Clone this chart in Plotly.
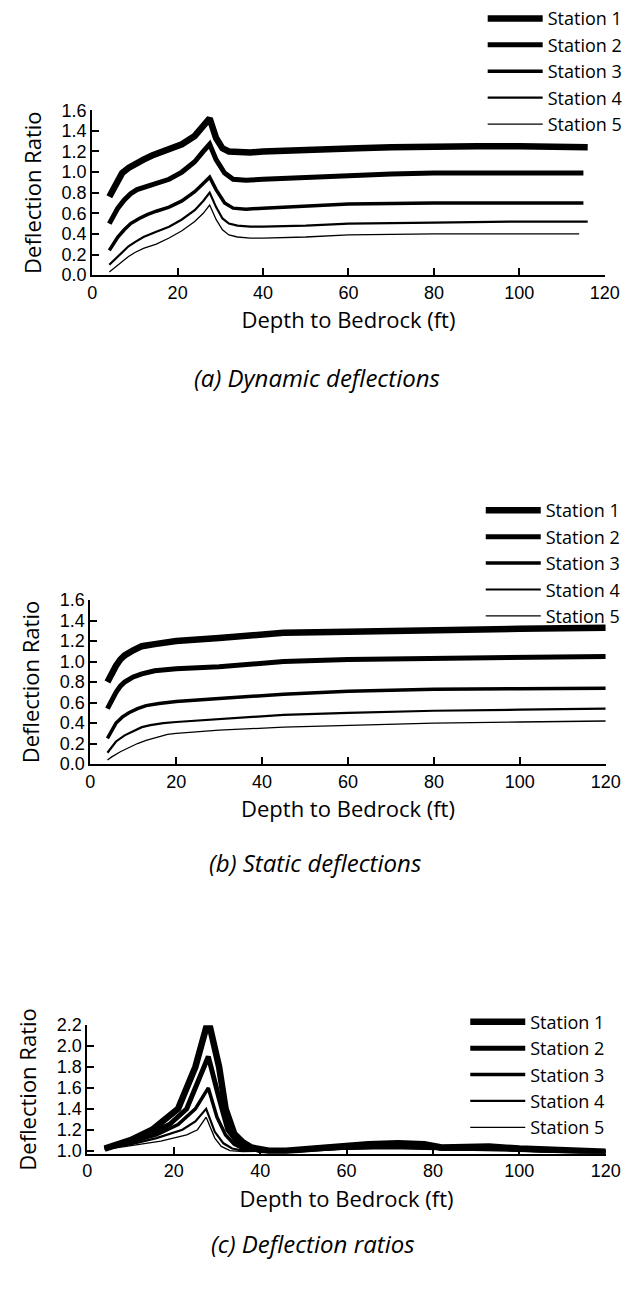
import plotly.graph_objects as go

names = ["Station 1", "Station 2", "Station 3", "Station 4", "Station 5"]
widths = [6.5, 5, 3.5, 2.2, 1.3]

# (a) Dynamic deflections
dyn_x = [
    [4, 5, 6, 7, 8.5, 10, 12, 14, 16, 18, 21, 24, 26, 27.5, 29, 30.5, 32, 34, 37, 40, 50, 60, 62, 70, 80, 90, 100, 116],
    [4, 5, 6, 7.5, 9, 10.5, 12, 15, 18, 21, 24, 26, 27.5, 29, 31, 33, 36, 40, 50, 60, 70, 80, 100, 115],
    [4, 5, 6, 7.5, 9, 11, 13, 15, 18, 21, 24, 26, 27.5, 29, 31, 33, 36, 40, 50, 60, 80, 100, 115],
    [4, 5.5, 7, 8.5, 10, 12, 15, 18, 21, 24, 26, 27.5, 29, 30.5, 32, 34, 37, 40, 50, 60, 80, 100, 116],
    [4, 5.5, 7, 8.5, 10, 12, 15, 18, 21, 24, 26, 27.5, 29, 30.5, 32, 34, 37, 40, 50, 60, 80, 100, 114],
]
dyn_y = [
    [0.76, 0.84, 0.92, 0.99, 1.04, 1.08, 1.12, 1.16, 1.19, 1.22, 1.27, 1.35, 1.44, 1.52, 1.33, 1.23, 1.2, 1.19, 1.19, 1.2, 1.22, 1.24, 1.23, 1.24, 1.25, 1.25, 1.25, 1.24],
    [0.5, 0.58, 0.65, 0.73, 0.79, 0.83, 0.85, 0.88, 0.93, 1.0, 1.1, 1.2, 1.27, 1.12, 0.99, 0.93, 0.92, 0.93, 0.95, 0.97, 0.98, 0.99, 0.99, 0.99],
    [0.24, 0.31, 0.37, 0.44, 0.5, 0.55, 0.59, 0.62, 0.66, 0.72, 0.81, 0.89, 0.95, 0.83, 0.7, 0.65, 0.64, 0.65, 0.67, 0.69, 0.7, 0.7, 0.7],
    [0.1, 0.16, 0.22, 0.28, 0.32, 0.37, 0.42, 0.47, 0.54, 0.63, 0.72, 0.8, 0.66, 0.55, 0.5, 0.48, 0.47, 0.47, 0.48, 0.5, 0.51, 0.52, 0.52],
    [0.03, 0.08, 0.13, 0.18, 0.22, 0.26, 0.3, 0.36, 0.43, 0.52, 0.6, 0.68, 0.54, 0.44, 0.39, 0.37, 0.36, 0.36, 0.37, 0.39, 0.4, 0.4, 0.4],
]

# (b) Static deflections
sta_x = [
    [4, 5, 6, 7, 8, 10, 12, 15, 20, 30, 45, 60, 80, 100, 120],
    [4, 5, 6, 7, 8, 10, 12, 15, 20, 30, 45, 60, 80, 100, 120],
    [4, 5, 6, 7.5, 9, 11, 13, 16, 20, 30, 45, 60, 80, 100, 120],
    [4, 5, 6, 8, 10, 12, 14, 17, 20, 30, 45, 60, 80, 100, 120],
    [4, 5, 7, 9, 11, 13, 16, 18, 20, 30, 45, 60, 80, 100, 120],
]
sta_y = [
    [0.8, 0.89, 0.96, 1.02, 1.06, 1.11, 1.15, 1.17, 1.2, 1.23, 1.28, 1.29, 1.31, 1.32, 1.33],
    [0.54, 0.63, 0.7, 0.76, 0.8, 0.85, 0.88, 0.91, 0.93, 0.95, 1.0, 1.02, 1.03, 1.04, 1.05],
    [0.25, 0.33, 0.4, 0.46, 0.5, 0.54, 0.57, 0.59, 0.61, 0.64, 0.68, 0.71, 0.73, 0.735, 0.74],
    [0.11, 0.17, 0.22, 0.28, 0.32, 0.36, 0.38, 0.4, 0.41, 0.44, 0.48, 0.5, 0.52, 0.53, 0.54],
    [0.04, 0.07, 0.12, 0.16, 0.2, 0.23, 0.27, 0.29, 0.3, 0.33, 0.36, 0.38, 0.4, 0.41, 0.42],
]

# (c) Deflection ratios
rat_x = [
    [4, 10, 15, 18, 21, 25, 28, 30.5, 32, 34, 36, 38, 42, 46, 55, 65, 72, 78, 82, 88, 93, 100, 110, 120],
    [4, 10, 15, 19, 23, 28, 30.5, 32.5, 34.5, 36, 40, 46, 55, 65, 72, 78, 82, 90, 94, 100, 110, 120],
    [4, 10, 16, 21, 25, 28, 30, 32, 34, 36, 40, 46, 55, 70, 80, 95, 105, 120],
    [4, 10, 16, 22, 25, 27.5, 29.5, 31.5, 33.5, 36, 45, 55, 70, 80, 95, 105, 120],
    [4, 10, 17, 23, 25.5, 27.5, 29.5, 31, 33, 36, 45, 55, 70, 80, 95, 105, 120],
]
rat_y = [
    [1.02, 1.1, 1.2, 1.3, 1.4, 1.8, 2.25, 1.8, 1.4, 1.16, 1.08, 1.03, 1.0, 1.0, 1.03, 1.06, 1.07, 1.06, 1.03, 1.03, 1.04, 1.02, 1.0, 0.99],
    [1.02, 1.09, 1.17, 1.25, 1.4, 1.9, 1.5, 1.2, 1.09, 1.05, 1.0, 1.0, 1.02, 1.05, 1.06, 1.05, 1.02, 1.02, 1.03, 1.01, 1.0, 0.99],
    [1.02, 1.08, 1.15, 1.25, 1.4, 1.6, 1.32, 1.15, 1.06, 1.02, 1.0, 1.0, 1.02, 1.04, 1.03, 1.02, 1.0, 0.99],
    [1.02, 1.06, 1.12, 1.2, 1.28, 1.4, 1.18, 1.07, 1.02, 1.0, 1.0, 1.01, 1.03, 1.02, 1.01, 1.0, 0.99],
    [1.01, 1.05, 1.09, 1.15, 1.2, 1.32, 1.12, 1.04, 1.0, 0.99, 1.0, 1.01, 1.02, 1.01, 1.0, 0.99, 0.99],
]

x_ticks = [0, 20, 40, 60, 80, 100, 120]
y_ticks_ab = [0.0, 0.2, 0.4, 0.6, 0.8, 1.0, 1.2, 1.4, 1.6]
y_ticks_c = [1.0, 1.2, 1.4, 1.6, 1.8, 2.0, 2.2]

captions = ["(a) Dynamic deflections", "(b) Static deflections", "(c) Deflection ratios"]

FONT = "Open Sans"
TICKFONT = "Liberation Sans"
W, H = 644, 1312

fig = go.Figure()

panels = [(dyn_x, dyn_y, "x", "y", "legend"),
          (sta_x, sta_y, "x2", "y2", "legend2"),
          (rat_x, rat_y, "x3", "y3", "legend3")]

for xs, ys, xa, ya, lg in panels:
    for i in range(5):
        fig.add_trace(go.Scatter(
            x=xs[i], y=ys[i], mode="lines", name=names[i],
            line=dict(color="black", width=widths[i]),
            xaxis=xa, yaxis=ya, legend=lg, showlegend=True,
        ))

def px_x(p):
    return p / W

def px_y(p):
    return 1 - p / H

axis_common = dict(
    showline=True, linecolor="black", linewidth=2,
    ticks="inside", ticklen=7, tickwidth=2, tickcolor="black",
    showgrid=False, zeroline=False,
    tickfont=dict(family=TICKFONT, size=18, color="black"),
)

xt = dict(text="Depth to Bedrock (ft)", font=dict(family=FONT, size=22, color="black"), standoff=11)
yt = dict(text="Deflection Ratio", font=dict(family=FONT, size=22, color="black"), standoff=14)

layout = dict(
    width=W, height=H,
    margin=dict(l=0, r=0, t=0, b=0),
    paper_bgcolor="white", plot_bgcolor="white",
    font=dict(family=FONT, color="black"),
    xaxis=dict(domain=[px_x(90), px_x(619)], range=[0, 120], tickvals=x_ticks, anchor="y", title=xt, **axis_common),
    yaxis=dict(domain=[px_y(266), px_y(98)], range=[0, 1.6], tickvals=y_ticks_ab, tickformat=".1f", anchor="x", title=yt, **axis_common),
    xaxis2=dict(domain=[px_x(88), px_x(620)], range=[0, 120], tickvals=x_ticks, anchor="y2", title=xt, **axis_common),
    yaxis2=dict(domain=[px_y(764), px_y(597)], range=[0, 1.6], tickvals=y_ticks_ab, tickformat=".1f", anchor="x2", title=yt, **axis_common),
    xaxis3=dict(domain=[px_x(85), px_x(620)], range=[0, 120], tickvals=x_ticks, anchor="y3", title=xt, **axis_common),
    yaxis3=dict(domain=[px_y(1161), px_y(1030)], range=[0.97, 2.2], tickvals=y_ticks_c, tickformat=".1f", anchor="x3", title=yt, **axis_common),
)

leg_common = dict(
    xanchor="left", yanchor="top", bgcolor="rgba(0,0,0,0)",
    font=dict(family=FONT, size=18, color="black"),
    itemwidth=55, tracegroupgap=0, traceorder="normal",
)
layout["legend"] = dict(x=px_x(493), y=px_y(-14), **leg_common)
layout["legend2"] = dict(x=px_x(491), y=px_y(487), **leg_common)
layout["legend3"] = dict(x=px_x(475), y=px_y(1008), **leg_common)

fig.update_layout(**layout)

cap_y = [370, 864, 1252]
cap_x = [322, 320, 318]
for t, cy, cx in zip(captions, cap_y, cap_x):
    fig.add_annotation(text=t, x=px_x(cx), y=px_y(cy), xref="paper", yref="paper",
                       showarrow=False, xanchor="center", yanchor="middle",
                       font=dict(family=FONT, size=24, color="black", style="italic"))

fig.write_html("out.html")
